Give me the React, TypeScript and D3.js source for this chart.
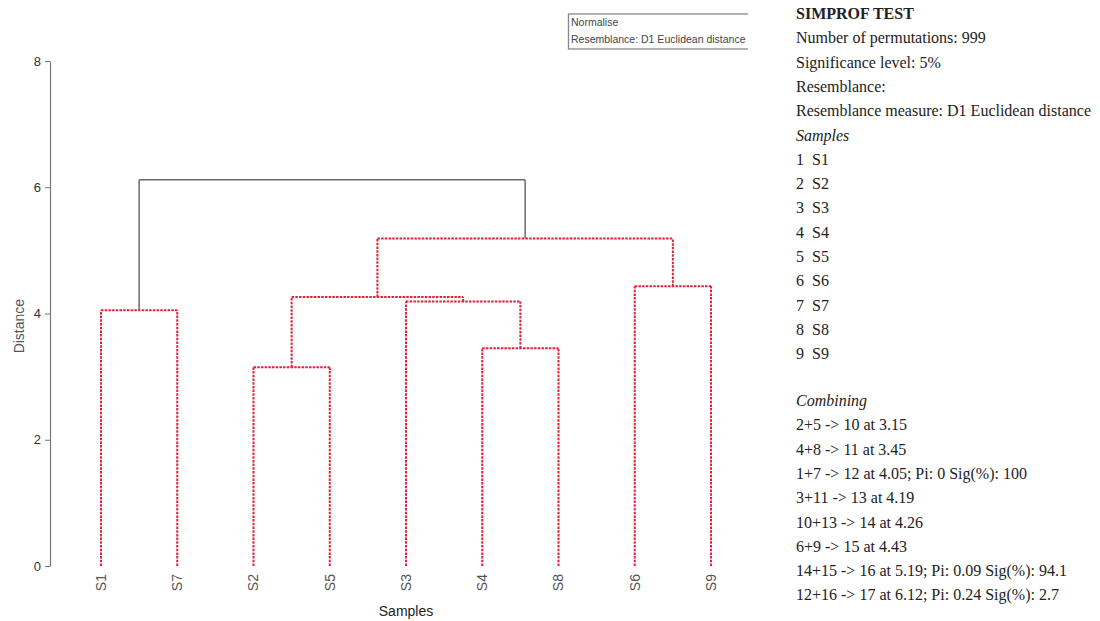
import React, { useEffect, useRef } from 'react';
import * as d3 from 'd3';

// samples, in the order the dendrogram puts them
const sampleNames = ['S1', 'S2', 'S3', 'S4', 'S5', 'S6', 'S7', 'S8', 'S9'];
const leafOrder = ['S1', 'S7', 'S2', 'S5', 'S3', 'S4', 'S8', 'S6', 'S9'];

// combining steps (node ids 10..17)
const mergeIds = [10, 11, 12, 13, 14, 15, 16, 17];
const mergeLeft = [2, 4, 1, 3, 10, 6, 14, 12];
const mergeRight = [5, 8, 7, 11, 13, 9, 15, 16];
const mergeHeights = [3.15, 3.45, 4.05, 4.19, 4.26, 4.43, 5.19, 6.12];
const mergeSignificant = [false, false, false, false, false, false, false, true];

const yTicks = [0, 2, 4, 6, 8];

const legendLines = ['Normalise', 'Resemblance: D1 Euclidean distance'];

const infoLines = [
  'Number of permutations: 999',
  'Significance level: 5%',
  'Resemblance:',
  'Resemblance measure: D1 Euclidean distance',
];
const combiningLines = [
  '2+5 -> 10 at 3.15',
  '4+8 -> 11 at 3.45',
  '1+7 -> 12 at 4.05; Pi: 0 Sig(%): 100',
  '3+11 -> 13 at 4.19',
  '10+13 -> 14 at 4.26',
  '6+9 -> 15 at 4.43',
  '14+15 -> 16 at 5.19; Pi: 0.09 Sig(%): 94.1',
  '12+16 -> 17 at 6.12; Pi: 0.24 Sig(%): 2.7',
];

const W = 1100;
const H = 621;
const RED = '#e3203a';
const GREY = '#6a6a6a';

export default function App() {
  const axisRef = useRef<SVGGElement>(null);

  const x = d3.scalePoint<string>().domain(leafOrder).range([101, 711]);
  const y = d3.scaleLinear().domain([0, 8]).range([566, 61]);

  useEffect(() => {
    if (!axisRef.current) return;
    const g = d3.select(axisRef.current);
    g.selectAll('*').remove();
    g.call(d3.axisLeft(y).tickValues(yTicks).tickSize(5).tickSizeOuter(0).tickPadding(4));
    g.select('.domain').attr('stroke', '#777').attr('stroke-width', 1.2);
    g.selectAll('.tick line').attr('stroke', '#777');
    g.selectAll('.tick text')
      .attr('fill', '#333')
      .style('font-family', 'Arial, "Liberation Sans", sans-serif')
      .style('font-size', '13px');
  }, []);

  // positions of each node: id -> {cx, h}
  const pos: Record<number, { cx: number; h: number }> = {};
  sampleNames.forEach((s, i) => {
    pos[i + 1] = { cx: x(s) as number, h: 0 };
  });
  const segs: { x1: number; y1: number; x2: number; y2: number; sig: boolean }[] = [];
  mergeIds.forEach((id, i) => {
    const a = pos[mergeLeft[i]];
    const b = pos[mergeRight[i]];
    const h = mergeHeights[i];
    const sig = mergeSignificant[i];
    const xl = Math.min(a.cx, b.cx);
    const xr = Math.max(a.cx, b.cx);
    segs.push({ x1: xl, y1: y(h), x2: xr, y2: y(h), sig });
    segs.push({ x1: a.cx, y1: y(a.h), x2: a.cx, y2: y(h), sig });
    segs.push({ x1: b.cx, y1: y(b.h), x2: b.cx, y2: y(h), sig });
    pos[id] = { cx: (xl + xr) / 2, h };
  });

  const serif = '"Liberation Serif", "Times New Roman", serif';
  const sans = 'Arial, "Liberation Sans", sans-serif';
  const lineStep = 24.3;

  return (
    <svg width={W} height={H} style={{ position: 'absolute', left: 0, top: 0, background: '#fff' }}>
      <defs>
        <clipPath id="legendClip">
          <rect x={566} y={8} width={182} height={46} />
        </clipPath>
      </defs>

      {/* legend box, cut at the right like the original */}
      <g clipPath="url(#legendClip)">
        <rect x={568.5} y={14} width={200} height={35} fill="none" stroke="#888" strokeWidth={1.3} />
        {legendLines.map((t, i) => (
          <text key={t} x={571} y={26 + i * 17} fontFamily={sans} fontSize={10.5} fill="#444">
            {t}
          </text>
        ))}
      </g>

      <g ref={axisRef} transform="translate(50,0)" />

      <text
        transform={`translate(24,${y(3.8)}) rotate(-90)`}
        textAnchor="middle"
        fontFamily={sans}
        fontSize={14}
        fill="#555"
      >
        Distance
      </text>

      {segs.map((s, i) => (
        <line
          key={i}
          x1={s.x1}
          y1={s.y1}
          x2={s.x2}
          y2={s.y2}
          stroke={s.sig ? GREY : RED}
          strokeWidth={s.sig ? 1.5 : 2}
          strokeDasharray={s.sig ? undefined : '2.5,1.2'}
        />
      ))}

      {leafOrder.map((s) => (
        <text
          key={s}
          transform={`translate(${x(s)},574) rotate(-90)`}
          textAnchor="end"
          dy="0.35em"
          fontFamily={sans}
          fontSize={14}
          fill="#555"
        >
          {s}
        </text>
      ))}
      <text x={406} y={616} textAnchor="middle" fontFamily={sans} fontSize={14} fill="#222">
        Samples
      </text>

      {/* SIMPROF panel */}
      <g fontFamily={serif} fontSize={16} fill="#222">
        <text x={796} y={19} fontWeight="bold">SIMPROF TEST</text>
        {infoLines.map((t, i) => (
          <text key={t} x={796} y={19 + (i + 1) * lineStep}>{t}</text>
        ))}
        <text x={796} y={19 + 5 * lineStep} fontStyle="italic">Samples</text>
        {sampleNames.map((s, i) => (
          <text key={s} x={796} y={19 + (6 + i) * lineStep} xmlSpace="preserve">
            {`${i + 1}  ${s}`}
          </text>
        ))}
        <text x={796} y={406} fontStyle="italic">Combining</text>
        {combiningLines.map((t, i) => (
          <text key={t} x={796} y={406 + (i + 1) * lineStep}>{t}</text>
        ))}
      </g>
    </svg>
  );
}
